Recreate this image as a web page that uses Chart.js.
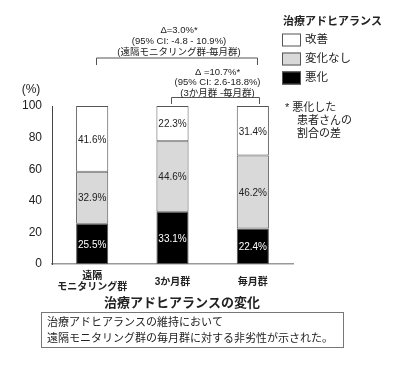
<!DOCTYPE html>
<html><head><meta charset="utf-8">
<script src="https://cdn.jsdelivr.net/npm/chart.js@4"></script>
<style>html,body{margin:0;padding:0;background:#fff}#c{display:block}</style>
</head><body>
<canvas id="c" width="400" height="371" style="width:400px;height:371px"></canvas>
<script>
const categories = [["遠隔","モニタリング群"], "3か月群", "毎月群"];
const seriesNames = ["悪化", "変化なし", "改善"];
const worsened  = [25.5, 33.1, 22.4];
const unchanged = [32.9, 44.6, 46.2];
const improved  = [41.6, 22.3, 31.4];
const seriesColors = ["#000000", "#d9d9d9", "#ffffff"];
const yTicks = [0, 20, 40, 60, 80, 100];
const legendTitle = "治療アドヒアランス";
const footnote = ["* 悪化した", "患者さんの", "割合の差"];
const comparisons = [
  {from: 0, to: 2, lines: ["Δ=3.0%*", "(95% CI: -4.8 - 10.9%)", "(遠隔モニタリング群-毎月群)"]},
  {from: 1, to: 2, lines: ["Δ =10.7%*", "(95% CI: 2.6-18.8%)", "(3か月群 -毎月群)"]}
];
const xTitle = "治療アドヒアランスの変化";
const boxText = ["治療アドヒアランスの維持において", "遠隔モニタリング群の毎月群に対する非劣性が示された。"];

const FF = '"Liberation Sans", Arial, "Noto Sans CJK JP", sans-serif';

const extras = {
  id: 'extras',
  afterDatasetsDraw(chart) {
    const ctx = chart.ctx;
    ctx.save();
    ctx.textAlign = 'center';
    ctx.textBaseline = 'middle';
    ctx.font = '10px ' + FF;
    chart.data.datasets.forEach((ds, di) => {
      const meta = chart.getDatasetMeta(di);
      meta.data.forEach((el, i) => {
        ctx.fillStyle = ds.backgroundColor === '#000000' ? '#ffffff' : '#222222';
        ctx.fillText(ds.data[i].toFixed(1) + '%', el.x, (el.y + el.base) / 2 + 1);
      });
    });
    ctx.restore();
  },
  afterDraw(chart) {
    const ctx = chart.ctx;
    const xs = chart.scales.x;
    ctx.save();
    ctx.fillStyle = '#222';
    ctx.textBaseline = 'middle';
    // (%) label
    ctx.font = '12px ' + FF;
    ctx.textAlign = 'center';
    ctx.fillText('(%)', 31, 90);

    // comparison brackets
    ctx.strokeStyle = '#555';
    ctx.lineWidth = 1;
    const cfg = [
      {barY: 58, tickY: 65, textY: [30, 41, 52], dl: 4, dr: 4},
      {barY: 97.5, tickY: 104, textY: [72, 82.5, 93], dl: -2, dr: 6}
    ];
    comparisons.forEach((c, k) => {
      const x1 = Math.round(xs.getPixelForValue(c.from) + cfg[k].dl) + 0.5;
      const x2 = Math.round(xs.getPixelForValue(c.to) + cfg[k].dr) + 0.5;
      const y = cfg[k].barY;
      ctx.beginPath();
      ctx.moveTo(x1, cfg[k].tickY);
      ctx.lineTo(x1, y);
      ctx.lineTo(x2, y);
      ctx.lineTo(x2, cfg[k].tickY);
      ctx.stroke();
      const cx = (x1 + x2) / 2 + 2;
      ctx.font = '9.5px ' + FF;
      ctx.textAlign = 'center';
      c.lines.forEach((t, j) => ctx.fillText(t, cx, cfg[k].textY[j]));
    });

    // legend
    ctx.textAlign = 'left';
    ctx.font = 'bold 11px ' + FF;
    ctx.fillText(legendTitle, 283, 22);
    const legendY = [40, 59, 78];
    ctx.font = '11.5px ' + FF;
    const order = [2, 1, 0];
    order.forEach((di, k) => {
      const ds = chart.data.datasets[di];
      const y = legendY[k];
      ctx.fillStyle = ds.backgroundColor;
      ctx.fillRect(282, y - 6.5, 19, 13);
      ctx.strokeStyle = '#555';
      ctx.strokeRect(282.5, y - 6, 18, 12);
      ctx.fillStyle = '#222';
      ctx.fillText(ds.label, 305, y);
    });
    // footnote
    ctx.font = '11px ' + FF;
    footnote.forEach((t, j) => {
      if (j === 0) ctx.fillText(t, 285, 108);
      else ctx.fillText(t, 297, 108 + j * 13);
    });

    // x title
    ctx.textAlign = 'center';
    ctx.font = 'bold 13px ' + FF;
    ctx.fillText(xTitle, 182, 303);

    // box
    ctx.strokeStyle = '#777';
    ctx.strokeRect(41.5, 312.5, 302, 35);
    ctx.textAlign = 'left';
    ctx.font = '11px ' + FF;
    ctx.fillText(boxText[0], 47, 323);
    ctx.fillText(boxText[1], 47, 339);
    ctx.restore();
  }
};

new Chart(document.getElementById('c'), {
  type: 'bar',
  data: {
    labels: categories,
    datasets: [
      {label: seriesNames[0], data: worsened,  backgroundColor: seriesColors[0]},
      {label: seriesNames[1], data: unchanged, backgroundColor: seriesColors[1]},
      {label: seriesNames[2], data: improved,  backgroundColor: seriesColors[2]}
    ].map(d => Object.assign(d, {borderColor: '#555', borderWidth: 1, borderSkipped: false,
                                 barPercentage: 0.4, categoryPercentage: 1}))
  },
  options: {
    responsive: false,
    animation: false,
    devicePixelRatio: 1,
    layout: {padding: {left: 0, top: 106, right: 107, bottom: 77}},
    plugins: {legend: {display: false}, tooltip: {enabled: false}},
    scales: {
      x: {
        stacked: true,
        grid: {display: false, drawTicks: false},
        border: {display: true, color: '#999', width: 1.5},
        ticks: {font: {family: FF, size: 10, weight: 'bold', lineHeight: 1.15}, color: '#222', padding: 12, crossAlign: 'center', maxRotation: 0, autoSkip: false},
        afterFit(s) { s.height = 30; }
      },
      y: {
        stacked: true,
        min: 0, max: 100,
        grid: {display: false, drawTicks: false},
        border: {display: true, color: '#444', width: 1},
        afterBuildTicks(s) { s.ticks = yTicks.map(v => ({value: v})); },
        ticks: {font: {family: FF, size: 12}, color: '#222', padding: 10},
        afterFit(s) { s.width = 52; }
      }
    }
  },
  plugins: [extras]
});
</script>
</body></html>
